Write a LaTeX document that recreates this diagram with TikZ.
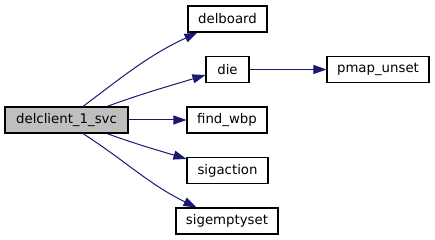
\documentclass[tikz,border=0pt]{standalone}
\usepackage{fontspec}
\setmainfont{DejaVu Sans}
\usetikzlibrary{arrows.meta}
\definecolor{edgeblue}{HTML}{191970}
\definecolor{rootfill}{HTML}{BFBFBF}
\begin{document}
\begin{tikzpicture}[x=1pt,y=-1pt,
  fn/.style={draw=black, line width=1.1pt, fill=white, inner sep=0pt,
    minimum height=26pt, font=\fontsize{13.3}{16}\selectfont, text=black},
  rootfn/.style={fn, fill=rootfill},
  call/.style={draw=edgeblue, line width=1pt,
    -{Triangle[length=13pt,width=9pt,fill=edgeblue]}}]
\useasboundingbox (0,0) rectangle (435,240);

% functions
\node[rootfn, minimum width=123pt] (root) at (66.5,120) {delclient\_1\_svc};
\node[fn, minimum width=79pt]  (delboard) at (227.5,19)  {delboard};
\node[fn, minimum width=43pt]  (die)      at (227.5,69.5) {die};
\node[fn, minimum width=102pt] (pmap)     at (378,69.5)   {pmap\_unset};
\node[fn, minimum width=80pt]  (findwbp)  at (227,120)    {find\_wbp};
\node[fn, minimum width=81pt]  (sigact)   at (227.5,170.5){sigaction};
\node[fn, minimum width=102pt] (sigempty) at (227,221)    {sigemptyset};

% calls
\draw[call] ([xshift=16.5pt]root.north) to[out=37,in=205] ([xshift=10pt]delboard.south west);
\draw[call] ([xshift=40.5pt]root.north) to[out=20,in=197] ([yshift=-5.5pt]die.west);
\draw[call] (root.east) -- (findwbp.west);
\draw[call] ([xshift=40.5pt]root.south) to[out=-20,in=163] ([yshift=-2pt]sigact.north west);
\draw[call] ([xshift=16.5pt]root.south) to[out=-33,in=154] ([xshift=21pt]sigempty.north west);
\draw[call] (die.east) -- (pmap.west);
\end{tikzpicture}
\end{document}
